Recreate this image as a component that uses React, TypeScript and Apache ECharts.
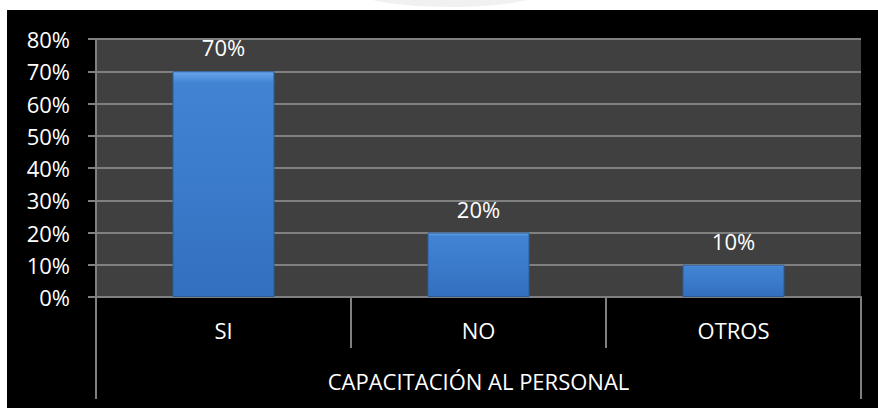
import React, { useEffect, useRef } from "react";
import * as echarts from "echarts";

const categories = ["SI", "NO", "OTROS"];
const groupLabel = ["CAPACITACIÓN AL PERSONAL"];
const values = [0.7, 0.2, 0.1];

const FONT = "'Open Sans', sans-serif";
const FS = 22;

export default function App() {
  const ref = useRef<HTMLDivElement>(null);
  useEffect(() => {
    if (!ref.current) return;
    const chart = echarts.init(ref.current, null, { renderer: "svg" });
    chart.setOption({
      animation: false,
      backgroundColor: "#000",
      textStyle: { fontFamily: FONT },
      grid: {
        left: 96,
        right: 17,
        top: 39,
        bottom: 111,
        show: true,
        backgroundColor: "#404040",
        borderWidth: 0,
      },
      xAxis: [
        {
          type: "category",
          data: categories,
          position: "bottom",
          axisLine: { show: true, lineStyle: { color: "#808080", width: 2 } },
          axisTick: { show: true, length: 51, lineStyle: { color: "#808080", width: 2 } },
          axisLabel: { color: "#fff", fontSize: FS, fontFamily: FONT, margin: 22 },
        },
        {
          type: "category",
          data: groupLabel,
          position: "bottom",
          axisLine: { show: false },
          axisTick: { show: true, length: 102, lineStyle: { color: "#808080", width: 2 } },
          axisLabel: { color: "#fff", fontSize: FS, fontFamily: FONT, margin: 73 },
        },
      ],
      yAxis: {
        type: "value",
        min: 0,
        max: 0.8,
        interval: 0.1,
        axisLine: { show: true, lineStyle: { color: "#808080", width: 2 } },
        axisTick: { show: true, length: 8, lineStyle: { color: "#808080", width: 2 } },
        splitLine: { show: true, lineStyle: { color: "#808080", width: 2 } },
        axisLabel: {
          color: "#fff",
          fontSize: FS,
          fontFamily: FONT,
          margin: 26,
          formatter: (v: number) => Math.round(v * 100) + "%",
        },
      },
      series: [
        {
          type: "bar",
          xAxisIndex: 0,
          data: values,
          barWidth: 102,
          itemStyle: {
            color: new echarts.graphic.LinearGradient(0, 0, 0, 1, [
              { offset: 0, color: "#67a6ec" },
              { offset: 0.05, color: "#4283d2" },
              { offset: 0.5, color: "#3b7bcb" },
              { offset: 1, color: "#3370bd" },
            ]),
            borderColor: "#2a5c9c",
            borderWidth: 1,
          },
          label: {
            show: true,
            position: "top",
            distance: 13,
            color: "#fff",
            fontSize: FS,
            fontFamily: FONT,
            formatter: (p: any) => Math.round(p.value * 100) + "%",
          },
        },
      ],
      graphic: [
        { type: "rect", z: 100, shape: { x: 0, y: 0, width: 878, height: 10 }, style: { fill: "#fff" } },
        { type: "rect", z: 100, shape: { x: 0, y: 0, width: 7, height: 408 }, style: { fill: "#fff" } },
        { type: "ellipse", z: 101, shape: { cx: 450, cy: -12, rx: 100, ry: 19 }, style: { fill: "#f1f1f1" } },
      ],
    });
    return () => chart.dispose();
  }, []);
  return (
    <div
      ref={ref}
      style={{ position: "fixed", left: 0, top: 0, width: 878, height: 408 }}
    />
  );
}
